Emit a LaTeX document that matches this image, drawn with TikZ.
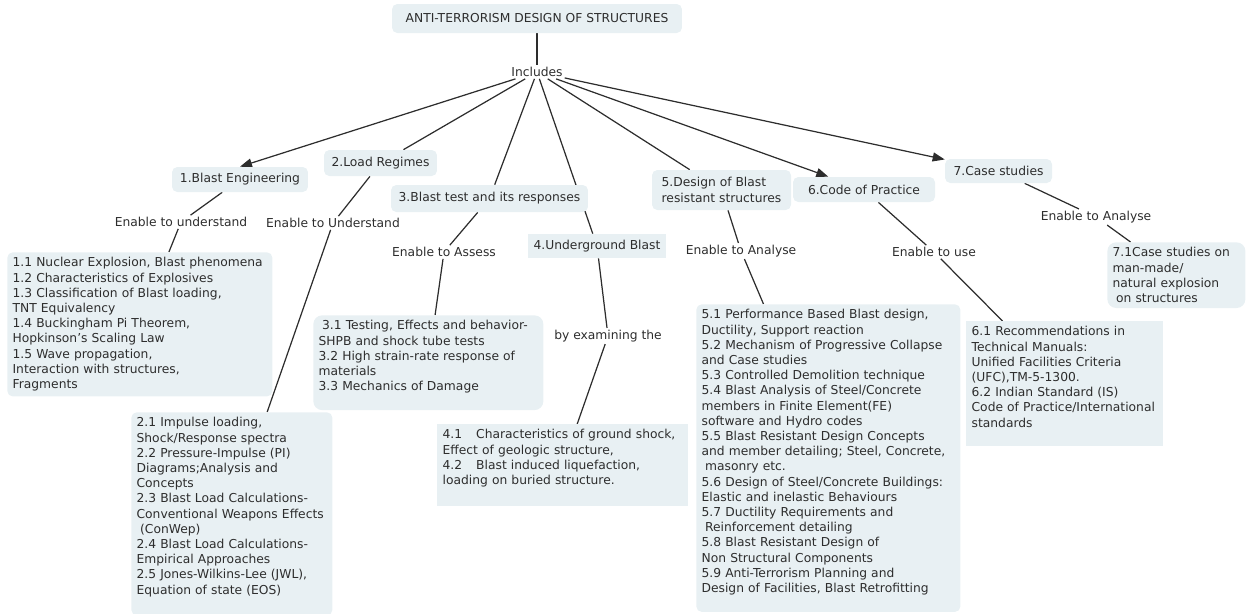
\documentclass[tikz,border=0pt]{standalone}
\usepackage{fontspec}
\setmainfont{DejaVu Sans}
\usepackage{xcolor}
\usepackage{tikz}
\usetikzlibrary{arrows.meta,backgrounds}

\definecolor{boxfill}{RGB}{232,240,243}
\definecolor{ink}{RGB}{45,45,45}
\newcommand{\mapfont}{\fontsize{7}{8.65}\selectfont}
\newcommand{\padbelow}[1]{\rule[-#1]{0pt}{#1}}

\begin{document}
\begin{tikzpicture}[
  x=0.02cm, y=-0.02cm,
  concept/.style={fill=boxfill, rounded corners=3pt, text=ink, font=\mapfont, inner sep=3pt},
  topic/.style={concept, align=center},
  detail/.style={concept, anchor=north west, align=left},
  linkword/.style={text=ink, font=\mapfont, inner sep=1pt},
  link/.style={draw=ink, line width=0.7pt},
  arrow/.style={link, -{Triangle[length=2.4mm, width=1.8mm]}}
]
\useasboundingbox (0,0) rectangle (1246,613);

\node[topic, minimum width=5.8cm, minimum height=0.58cm] (title) at (537,18.5) {ANTI-TERRORISM DESIGN OF STRUCTURES};
\node[linkword] (incl) at (537,72) {Includes};

\node[topic, minimum width=2.72cm, minimum height=0.5cm] (blast) at (240,179.5) {1.Blast Engineering};
\node[topic, minimum width=2.26cm, minimum height=0.52cm] (load) at (380.5,163) {2.Load Regimes};
\node[topic, minimum width=3.94cm, minimum height=0.54cm] (test) at (489.5,198.5) {3.Blast test and its responses};
\node[topic, rounded corners=0pt, minimum width=2.76cm, minimum height=0.48cm] (under) at (597,246) {4.Underground Blast};
\node[topic, align=left, minimum width=2.78cm, minimum height=0.8cm] (design) at (721.5,190) {5.Design of Blast\\resistant structures};
\node[topic, minimum width=2.84cm, minimum height=0.5cm] (code) at (864,189.5) {6.Code of Practice};
\node[topic, minimum width=2.14cm, minimum height=0.48cm] (cases) at (998.5,171) {7.Case studies};

\node[linkword] (lblast) at (181,222) {Enable to understand};
\node[linkword] (lload) at (333,223) {Enable to Understand};
\node[linkword] (ltest) at (444,252) {Enable to Assess};
\node[linkword] (lunder) at (608,336) {by examining the};
\node[linkword] (ldesign) at (741,251) {Enable to Analyse};
\node[linkword] (lcode) at (934,252) {Enable to use};
\node[linkword] (lcases) at (1096,217) {Enable to Analyse};

\node[detail, text width=5.09cm] (blastsub) at (7,252) {1.1 Nuclear Explosion, Blast phenomena\\
1.2 Characteristics of Explosives\\
1.3 Classification of Blast loading,\\
TNT Equivalency\\
1.4 Buckingham Pi Theorem,\\
Hopkinson’s Scaling Law\\
1.5 Wave propagation,\\
Interaction with structures,\\
Fragments};
\node[detail, text width=3.81cm] (loadsub) at (131,412) {2.1 Impulse loading,\\
Shock/Response spectra\\
2.2 Pressure-Impulse (PI)\\
Diagrams;Analysis and\\
Concepts\\
2.3 Blast Load Calculations-\\
Conventional Weapons Effects\\
\hspace{2pt}(ConWep)\\
2.4 Blast Load Calculations-\\
Empirical Approaches\\
2.5 Jones-Wilkins-Lee (JWL),\\
Equation of state (EOS)\padbelow{9pt}};
\node[detail, rounded corners=5pt, text width=4.39cm] (testsub) at (313,315) {\hspace{2pt}3.1 Testing, Effects and behavior-\\
SHPB and shock tube tests\\
3.2 High strain-rate response of\\
materials\\
3.3 Mechanics of Damage\padbelow{8pt}};
\node[detail, rounded corners=0pt, text width=4.81cm] (undersub) at (437,424) {4.1\hspace{8pt}Characteristics of ground shock,\\
Effect of geologic structure,\\
4.2\hspace{8pt}Blast induced liquefaction,\\
loading on buried structure.\padbelow{9pt}};
\node[detail, text width=5.07cm] (designsub) at (696,304) {5.1 Performance Based Blast design,\\
Ductility, Support reaction\\
5.2 Mechanism of Progressive Collapse\\
and Case studies\\
5.3 Controlled Demolition technique\\
5.4 Blast Analysis of Steel/Concrete\\
members in Finite Element(FE)\\
software and Hydro codes\\
5.5 Blast Resistant Design Concepts\\
and member detailing; Steel, Concrete,\\
\hspace{2pt}masonry etc.\\
5.6 Design of Steel/Concrete Buildings:\\
Elastic and inelastic Behaviours\\
5.7 Ductility Requirements and\\
\hspace{2pt}Reinforcement detailing\\
5.8 Blast Resistant Design of\\
Non Structural Components\\
5.9 Anti-Terrorism Planning and\\
Design of Facilities, Blast Retrofitting\padbelow{8pt}};
\node[detail, rounded corners=0pt, text width=3.73cm] (codesub) at (966,321) {6.1 Recommendations in\\
Technical Manuals:\\
Unified Facilities Criteria\\
(UFC),TM-5-1300.\\
6.2 Indian Standard (IS)\\
Code of Practice/International\\
standards\padbelow{8pt}};
\node[detail, rounded corners=5pt, text width=2.55cm] (casessub) at (1107,242) {7.1Case studies on\\
man-made/\\
natural explosion\\
\hspace{2pt}on structures};

\begin{scope}[on background layer]
\draw[link] (title) -- (incl);
\draw[arrow] (incl) -- (blast.north);
\draw[link] (incl) -- (load);
\draw[link] (incl) -- (test);
\draw[link] (incl) -- (under);
\draw[link] (incl) -- (design);
\draw[arrow] (incl) -- (code);
\draw[arrow] (incl) -- (cases);
\draw[link] (blast) -- (lblast);
\draw[link] (lblast) -- (blastsub);
\draw[link] (load) -- (lload);
\draw[link] (lload) -- (loadsub);
\draw[link] (test) -- (ltest);
\draw[link] (ltest) -- (testsub);
\draw[link] (under) -- (lunder);
\draw[link] (lunder) -- (undersub);
\draw[link] (design) -- (ldesign);
\draw[link] (ldesign) -- (designsub);
\draw[link] (code) -- (lcode);
\draw[link] (lcode) -- (codesub);
\draw[link] (cases) -- (lcases);
\draw[link] (lcases) -- (casessub);
\end{scope}
\end{tikzpicture}
\end{document}
